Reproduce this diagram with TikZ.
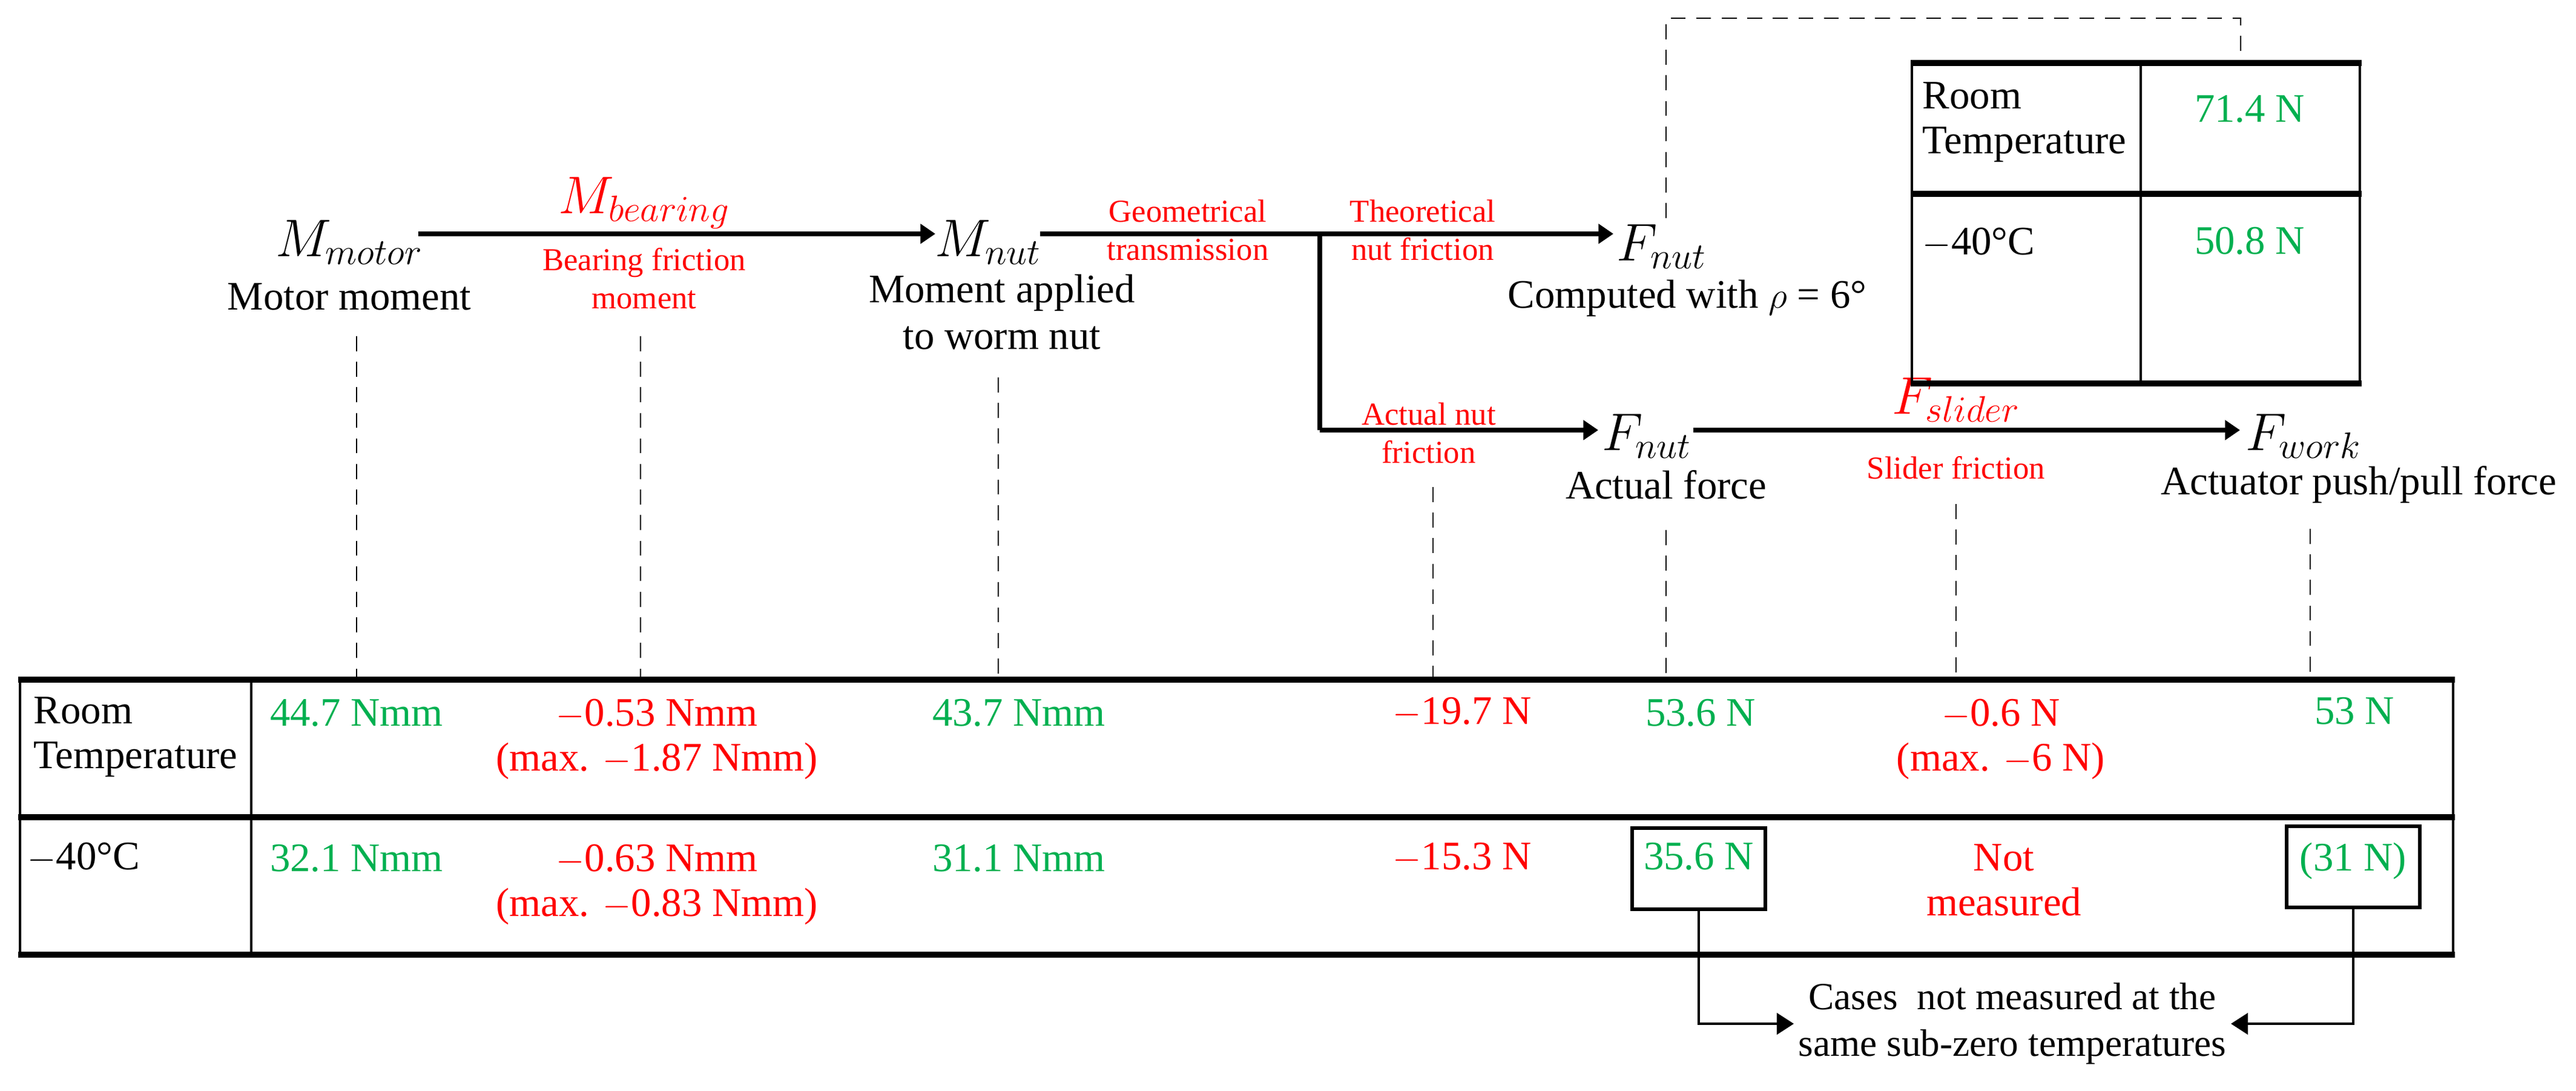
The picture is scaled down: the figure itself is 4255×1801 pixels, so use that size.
\documentclass[tikz,border=0pt]{standalone}
\usepackage{fontspec}
\setmainfont{Liberation Serif}
\usetikzlibrary{arrows.meta}
\definecolor{gr}{RGB}{0,176,80}
\definecolor{rd}{RGB}{255,0,0}
\begin{document}
\begin{tikzpicture}[x=0.01cm,y=-0.01cm,
  big/.style={font=\fontsize{19}{22}\selectfont,align=center,inner sep=2pt},
  mth/.style={font=\fontsize{24}{28}\selectfont,inner sep=3pt},
  lab/.style={font=\fontsize{15}{18}\selectfont,text=rd,align=center,inner sep=1pt},
  val/.style={font=\fontsize{19}{21}\selectfont,text=gr,align=center,inner sep=1pt,anchor=north},
  rval/.style={val,text=rd},
  hdr/.style={font=\fontsize{19}{21}\selectfont,align=left,anchor=north west,inner sep=0pt},
  arr/.style={line width=2.3pt,-{Triangle[length=7pt,width=9pt]}},
  dsh/.style={line width=0.6pt,dash pattern=on 7pt off 5pt},
  thk/.style={line width=3pt},
  thn/.style={line width=1.2pt},
  box/.style={draw,line width=1.6pt,minimum width=2.2cm,minimum height=1.34cm,anchor=north,inner sep=0pt}]
\useasboundingbox (0,0) rectangle (4255,1801);
% top flow
\node[mth] (mmotor) at (577,400) {$M_{motor}$};
\node[big] (tmotor) at (577,490) {Motor moment};
\node[mth,text=rd] (mbear) at (1064,335) {$M_{bearing}$};
\node[lab] (tbear) at (1064,460) {Bearing friction\\moment};
\node[mth] (mnut) at (1632,400) {$M_{nut}$};
\node[big] (tnut) at (1655,515) {Moment applied\\to worm nut};
\node[lab] (tgeo) at (1962,380) {Geometrical\\transmission};
\node[lab] (ttheo) at (2350,380) {Theoretical\\nut friction};
\node[mth] (fnut1) at (2745,407) {$F_{nut}$};
\node[big] (tcomp) at (2787,492) {Computed with $\rho$ = 6°};
\node[lab] (tact) at (2360,715) {Actual nut\\friction};
\node[mth] (fnut2) at (2720,720) {$F_{nut}$};
\node[big] (tforce) at (2752,800) {Actual force};
\node[mth,text=rd] (fsl) at (3231,660) {$F_{slider}$};
\node[lab] (tsl) at (3231,772) {Slider friction};
\node[mth] (fwork) at (3805,720) {$F_{work}$};
\node[big] (twork) at (3896,800) {Actuator push/pull force};
\coordinate (a1) at (691,386); \coordinate (a2) at (1545,386);
\coordinate (b1) at (1718,386); \coordinate (b2) at (2665,386);
\coordinate (br) at (2180,386); \coordinate (bc) at (2180,710); \coordinate (c2) at (2640,710);
\coordinate (d1) at (2797,710); \coordinate (d2) at (3700,710);
\draw[arr] (a1) -- (a2);
\draw[arr] (b1) -- (b2);
\draw[arr,-] (br) -- (bc);
\draw[arr] (bc) -- (c2);
\draw[arr] (d1) -- (d2);
% top-right table
\draw[dsh] (2752,360) -- (2752,30) -- (3701,30) -- (3701,100);
\draw[thn] (3158,104) -- (3158,633) (3536,104) -- (3536,633) (3898,104) -- (3898,633);
\draw[thk] (3156,104) -- (3901,104) (3156,320) -- (3901,320) (3156,633) -- (3901,633);
\node[hdr] (rt1) at (3175,135) {Room\\Temperature};
\node[val,anchor=center] (v71) at (3716,180) {71.4 N};
\node[hdr] (rt2) at (3175,375) {$-$40°C};
\node[val,anchor=center] (v50) at (3716,398) {50.8 N};
% dashed guides
\foreach \x/\y in {589/555,1058/555,1649/623,2367/804,2752/875,3231/832,3816/873}
  \draw[dsh] (\x,\y) -- (\x,1120);
% main table
\draw[thn] (33,1122) -- (33,1576) (415,1122) -- (415,1576) (4052,1122) -- (4052,1576);
\draw[thk] (30,1122) -- (4055,1122) (30,1349) -- (4055,1349) (30,1576) -- (4055,1576);
\node[hdr] (mr1) at (55,1150) {Room\\Temperature};
\node[hdr] (mr2) at (45,1390) {$-$40°C};
\node[val] (v1) at (589,1150) {44.7 Nmm};
\node[rval] (v2) at (1085,1150) {$-$0.53 Nmm\\(max. $-$1.87 Nmm)};
\node[val] (v3) at (1683,1150) {43.7 Nmm};
\node[rval] (v4) at (2415,1147) {$-$19.7 N};
\node[val] (v5) at (2809,1150) {53.6 N};
\node[rval] (v6) at (3305,1150) {$-$0.6 N\\(max. $-$6 N)};
\node[val] (v7) at (3889,1147) {53 N};
\node[val] (w1) at (589,1390) {32.1 Nmm};
\node[rval] (w2) at (1085,1390) {$-$0.63 Nmm\\(max. $-$0.83 Nmm)};
\node[val] (w3) at (1683,1390) {31.1 Nmm};
\node[rval] (w4) at (2415,1387) {$-$15.3 N};
\node[box] (b5) at (2806,1364) {};
\node[val] (w5) at (2806,1387) {35.6 N};
\node[rval] (w6) at (3310,1390) {Not\\measured};
\node[box] (b7) at (3887,1361) {};
\node[val] (w7) at (3887,1387) {(31 N)};
\node[big,font=\fontsize{18}{22}\selectfont] (cases) at (3324,1690) {Cases\ \ not measured at the\\same sub-zero temperatures};
\draw[line width=1.2pt,-{Triangle[length=8pt,width=10pt]}] (b5.south) |- (cases.west);
\draw[line width=1.2pt,-{Triangle[length=8pt,width=10pt]}] (b7.south) |- (cases.east);
\end{tikzpicture}
\end{document}
